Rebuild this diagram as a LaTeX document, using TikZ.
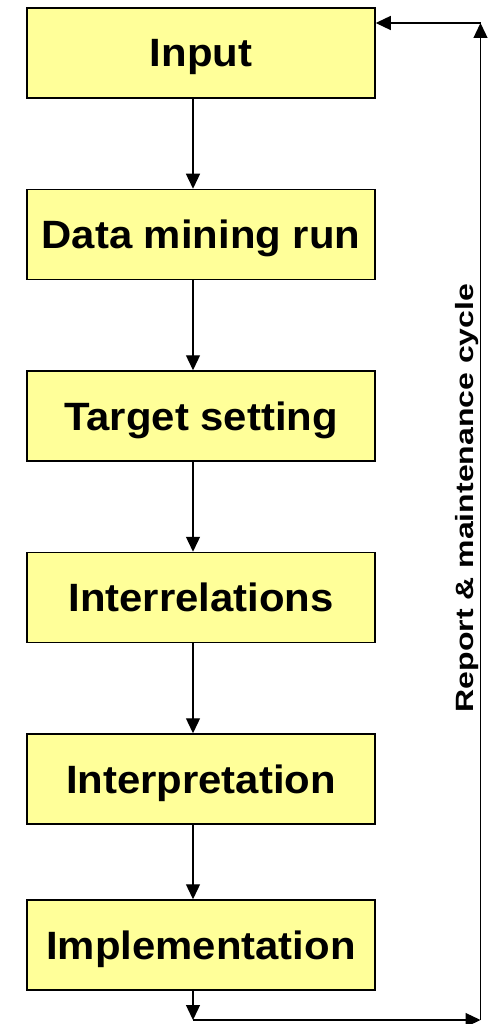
\documentclass[tikz,border=0pt]{standalone}
\usepackage{fontspec}
\setmainfont{Liberation Sans}
\usetikzlibrary{arrows.meta,calc}
\definecolor{boxfill}{HTML}{FFFF99}
\begin{document}
\begin{tikzpicture}[x=1pt,y=1pt,
  stagebox/.style={draw=black, line width=1.5pt, fill=boxfill, rectangle,
    minimum width=348pt, minimum height=90pt, inner sep=0pt,
    text height=28pt, text depth=0pt,
    font=\fontsize{39.5}{44}\selectfont\bfseries},
  arr/.style={line width=1.3pt, -{Triangle[width=14pt,length=15pt]}},
  cyclelabel/.style={rotate=90, font=\fontsize{25}{30}\selectfont\bfseries, inner sep=0pt,
    text height=18pt, text depth=0pt}
]
\useasboundingbox (0,0) rectangle (490,-1024);
\node[stagebox] (n1) at (201,-53)    {\scalebox{1.06}[1]{Input}};
\node[stagebox] (n2) at (201,-234.5) {\scalebox{1.06}[1]{Data mining run}};
\node[stagebox] (n3) at (201,-416)   {\scalebox{1.06}[1]{Target setting}};
\node[stagebox] (n4) at (201,-597.5) {\scalebox{1.06}[1]{Interrelations}};
\node[stagebox] (n5) at (201,-779)   {\scalebox{1.06}[1]{Interpretation}};
\node[stagebox] (n6) at (201,-945)   {\scalebox{1.06}[1]{Implementation}};
\coordinate (ax) at (193,0);
\coordinate (c1) at (193,-1020);
\coordinate (c2) at (480.5,-1020);
\coordinate (c3) at (480.5,-23);
\draw[arr] (n1.south -| ax) -- (n2.north -| ax);
\draw[arr] (n2.south -| ax) -- (n3.north -| ax);
\draw[arr] (n3.south -| ax) -- (n4.north -| ax);
\draw[arr] (n4.south -| ax) -- (n5.north -| ax);
\draw[arr] (n5.south -| ax) -- (n6.north -| ax);
\draw[arr] (n6.south -| ax) -- (c1);
\draw[arr] (c1) -- (c2);
\draw[arr] (c2) -- (c3);
\draw[arr] (c3) -- (n1.east |- c3);
\node[cyclelabel] (lbl) at (464,-498) {\scalebox{1.28}[1]{Report \& maintenance cycle}};
\end{tikzpicture}
\end{document}
